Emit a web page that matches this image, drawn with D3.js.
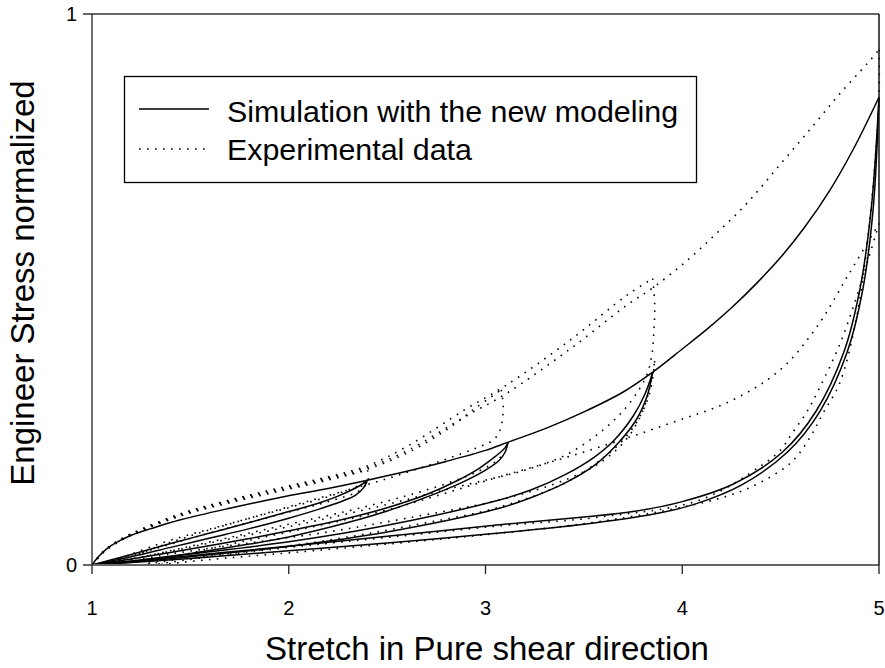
<!DOCTYPE html>
<html><head><meta charset="utf-8">
<script src="https://cdn.jsdelivr.net/npm/d3@7"></script>
<style>body{margin:0;background:#fff}svg{display:block}text{font-family:"Liberation Sans",Arial,sans-serif;fill:#000}</style>
</head><body><svg id="c" width="885" height="668"></svg>
<script>
const xTicks=[1,2,3,4,5];
const yTicks=[0,1];
const legendLabels=["Simulation with the new modeling","Experimental data"];
const xTitle="Stretch in Pure shear direction";
const yTitle="Engineer Stress normalized";

// Simulation (solid)
const simEnvelope=[[1,0],[1.03,0.014],[1.07,0.028],[1.12,0.04],[1.2,0.054],[1.3,0.066],[1.45,0.082],[1.7,0.103],[1.95,0.122],[2.2,0.139],[2.4,0.154],[2.6,0.17],[2.8,0.188],[3.0,0.208],[3.115,0.223],[3.3,0.247],[3.495,0.277],[3.7,0.314],[3.85,0.35],[4.0,0.392],[4.126,0.428],[4.26,0.47],[4.38,0.512],[4.497,0.557],[4.62,0.612],[4.75,0.68],[4.87,0.755],[5.0,0.849]];
const simUnload1=[[2.4,0.154],[2.38,0.14],[2.34,0.127],[2.28,0.117],[2.15,0.101],[2.0,0.085],[1.8,0.066],[1.6,0.049],[1.4,0.032],[1.2,0.015],[1,0]];
const simReload1=[[1,0],[1.2,0.019],[1.4,0.039],[1.6,0.058],[1.8,0.077],[2.0,0.097],[2.15,0.112],[2.25,0.125],[2.33,0.138],[2.38,0.148],[2.4,0.154]];
const simUnload2=[[3.115,0.223],[3.1,0.205],[3.07,0.19],[3.0,0.172],[2.9,0.153],[2.75,0.13],[2.5,0.098],[2.3,0.077],[2.0,0.051],[1.8,0.038],[1.5,0.021],[1.2,0.007],[1,0]];
const simReload2=[[1,0],[1.2,0.011],[1.5,0.029],[1.8,0.048],[2.0,0.062],[2.3,0.085],[2.5,0.104],[2.7,0.128],[2.85,0.152],[2.97,0.176],[3.05,0.197],[3.1,0.213],[3.115,0.223]];
const simUnload3=[[3.85,0.35],[3.82,0.305],[3.76,0.26],[3.65,0.212],[3.55,0.18],[3.41,0.15],[3.23,0.122],[3.07,0.103],[2.5,0.06],[2.0,0.034],[1.5,0.015],[1.2,0.005],[1,0]];
const simReload3=[[1,0],[1.2,0.007],[1.5,0.02],[2.0,0.042],[2.5,0.072],[3.07,0.118],[3.23,0.136],[3.41,0.165],[3.55,0.195],[3.65,0.225],[3.75,0.27],[3.81,0.31],[3.85,0.35]];
const simUnload4=[[5,0.849],[4.97,0.645],[4.915,0.495],[4.837,0.385],[4.7,0.279],[4.535,0.205],[4.3,0.145],[4.06,0.11],[3.85,0.092],[3.5,0.074],[3.07,0.058],[2.5,0.04],[2.0,0.026],[1.5,0.012],[1,0]];
const simReload4=[[1,0],[1.5,0.017],[2.0,0.034],[2.5,0.052],[3.07,0.073],[3.5,0.087],[3.75,0.097],[4.0,0.115],[4.26,0.147],[4.51,0.205],[4.68,0.279],[4.82,0.385],[4.9,0.495],[4.96,0.645],[5,0.849]];

// Experimental (dotted)
const exp1Load=[[1,0],[1.05,0.02],[1.1,0.034],[1.2,0.054],[1.45,0.089],[1.7,0.113],[1.955,0.134],[2.2,0.154],[2.4,0.172]];
const exp1Unload=[[2.4,0.172],[2.405,0.158],[2.39,0.145],[2.35,0.133],[2.2,0.115],[2.0,0.096],[1.7,0.068],[1.4,0.038],[1.2,0.016],[1.06,0]];
const exp1Reload=[[1.06,0],[1.2,0.02],[1.4,0.045],[1.7,0.075],[2.0,0.104],[2.2,0.124],[2.33,0.14],[2.4,0.152]];
const exp2Load=[[1,0],[1.05,0.021],[1.1,0.035],[1.2,0.055],[1.45,0.09],[1.7,0.115],[1.955,0.136],[2.2,0.156],[2.4,0.174],[2.6,0.203],[2.8,0.245],[2.95,0.285],[3.08,0.318]];
const exp2Unload=[[3.08,0.318],[3.09,0.29],[3.085,0.262],[3.07,0.242],[3.04,0.227],[2.95,0.212],[2.8,0.192],[2.6,0.168],[2.4,0.146],[2.1,0.116],[1.8,0.085],[1.5,0.053],[1.25,0.022],[1.08,0]];
const exp2Reload=[[1.08,0],[1.3,0.018],[1.6,0.042],[2.0,0.074],[2.3,0.098],[2.51,0.117],[2.67,0.133],[2.835,0.152],[2.97,0.171],[3.06,0.19],[3.1,0.205]];
const exp3Load=[[1,0],[1.05,0.022],[1.1,0.037],[1.2,0.057],[1.45,0.093],[1.7,0.118],[1.955,0.14],[2.2,0.16],[2.4,0.18],[2.6,0.215],[2.9,0.283],[3.1,0.325],[3.43,0.408],[3.72,0.49],[3.85,0.52]];
const exp3Unload=[[3.85,0.52],[3.86,0.47],[3.855,0.42],[3.845,0.38],[3.82,0.345],[3.78,0.318],[3.7,0.28],[3.58,0.24],[3.41,0.2],[3.2,0.172],[3.07,0.16],[2.8,0.137],[2.5,0.11],[2.2,0.085],[1.9,0.062],[1.6,0.04],[1.3,0.018],[1.1,0.005],[1.04,0]];
const exp3Reload=[[1.1,0],[1.4,0.02],[1.8,0.04],[2.2,0.06],[2.6,0.085],[3.07,0.118],[3.41,0.155],[3.6,0.19],[3.72,0.23],[3.8,0.28],[3.84,0.33],[3.86,0.37]];
const exp3Unload2=[[3.86,0.37],[3.84,0.32],[3.8,0.28],[3.72,0.235],[3.6,0.195],[3.41,0.15],[3.07,0.105],[2.6,0.07],[2.2,0.045],[1.8,0.025],[1.4,0.008],[1.25,0]];
const exp4Load=[[1,0],[1.05,0.021],[1.1,0.036],[1.2,0.056],[1.45,0.092],[1.7,0.117],[1.955,0.138],[2.2,0.158],[2.4,0.177],[2.6,0.207],[2.9,0.27],[3.1,0.31],[3.43,0.392],[3.72,0.472],[3.85,0.503],[4.01,0.548],[4.16,0.597],[4.33,0.657],[4.5,0.728],[4.66,0.795],[4.8,0.855],[4.94,0.91],[5,0.935]];
const exp4Unload=[[5,0.935],[5,0.85],[4.96,0.65],[4.89,0.457],[4.8,0.33],[4.716,0.276],[4.65,0.232],[4.55,0.185],[4.34,0.14],[4.18,0.12],[3.9,0.098],[3.5,0.075],[3.0,0.055],[2.5,0.038],[2.0,0.022],[1.6,0.01],[1.33,0]];
const exp4Reload=[[1.25,0],[1.6,0.03],[2.0,0.06],[2.5,0.1],[3.07,0.16],[3.5,0.205],[3.92,0.255],[4.26,0.3],[4.5,0.355],[4.68,0.43],[4.85,0.53],[5,0.62]];
const exp4Unload2=[[5,0.62],[4.95,0.56],[4.88,0.48],[4.8,0.4],[4.7,0.323],[4.63,0.276],[4.56,0.24],[4.5,0.209],[4.4,0.18],[4.09,0.118],[3.58,0.087],[3.07,0.071],[2.5,0.05],[2.0,0.032],[1.6,0.015],[1.3,0]];

const simSeries=[simEnvelope,simUnload1,simReload1,simUnload2,simReload2,simUnload3,simReload3,simUnload4,simReload4];
const expSeries=[exp1Load,exp1Unload,exp1Reload,exp2Load,exp2Unload,exp2Reload,exp3Load,exp3Unload,exp3Reload,exp3Unload2,exp4Load,exp4Unload,exp4Reload,exp4Unload2];

const svg=d3.select("#c");
const x=d3.scaleLinear().domain([1,5]).range([92,879]);
const y=d3.scaleLinear().domain([0,1]).range([565,14]);
const line=d3.line().x(d=>x(d[0])).y(d=>y(d[1])).curve(d3.curveCatmullRom.alpha(0.5));

const plot=svg.append("g");
plot.selectAll("path.exp").data(expSeries).join("path").attr("class","exp")
  .attr("d",line).attr("fill","none").attr("stroke","#000").attr("stroke-width",1.6).attr("stroke-dasharray","1.6,6.4");
plot.selectAll("path.sim").data(simSeries).join("path").attr("class","sim")
  .attr("d",line).attr("fill","none").attr("stroke","#000").attr("stroke-width",1.5);

// frame
const ax=svg.append("g");
ax.append("line").attr("x1",83).attr("x2",879).attr("y1",y(1)).attr("y2",y(1)).attr("stroke","#666").attr("stroke-width",2);
ax.append("line").attr("x1",83).attr("x2",879).attr("y1",y(0)).attr("y2",y(0)).attr("stroke","#666").attr("stroke-width",2);
ax.append("line").attr("x1",x(1)).attr("x2",x(1)).attr("y1",y(1)).attr("y2",y(0)).attr("stroke","#222").attr("stroke-width",1.3);
ax.append("line").attr("x1",x(5)).attr("x2",x(5)).attr("y1",y(1)).attr("y2",y(0)).attr("stroke","#111").attr("stroke-width",1.5);
ax.selectAll("line.xt").data(xTicks).join("line").attr("class","xt")
  .attr("x1",d=>x(d)).attr("x2",d=>x(d)).attr("y1",y(0)).attr("y2",y(0)+9).attr("stroke","#222").attr("stroke-width",1.3);
ax.selectAll("text.xl").data(xTicks).join("text").attr("class","xl")
  .attr("x",d=>x(d)).attr("y",615).attr("text-anchor","middle").attr("font-size",20).text(d=>d);
ax.selectAll("text.yl").data(yTicks).join("text").attr("class","yl")
  .attr("x",77).attr("y",d=>y(d)+7).attr("text-anchor","end").attr("font-size",20).text(d=>d);

svg.append("text").attr("x",487).attr("y",660).attr("text-anchor","middle").attr("font-size",33).text(xTitle);
svg.append("text").attr("transform","translate(34,283) rotate(-90)").attr("text-anchor","middle").attr("font-size",33).text(yTitle);

// legend
const lg=svg.append("g");
lg.append("rect").attr("x",124.5).attr("y",76.5).attr("width",572).attr("height",106).attr("fill","#fff").attr("stroke","#000").attr("stroke-width",1.3);
lg.append("line").attr("x1",139).attr("x2",209).attr("y1",109).attr("y2",109).attr("stroke","#000").attr("stroke-width",1.5);
lg.append("line").attr("x1",139).attr("x2",209).attr("y1",149).attr("y2",149).attr("stroke","#000").attr("stroke-width",1.6).attr("stroke-dasharray","1.6,6.4");
lg.selectAll("text").data(legendLabels).join("text").attr("x",227).attr("y",(d,i)=>122+i*38).attr("font-size",30.4).text(d=>d);
</script></body></html>
